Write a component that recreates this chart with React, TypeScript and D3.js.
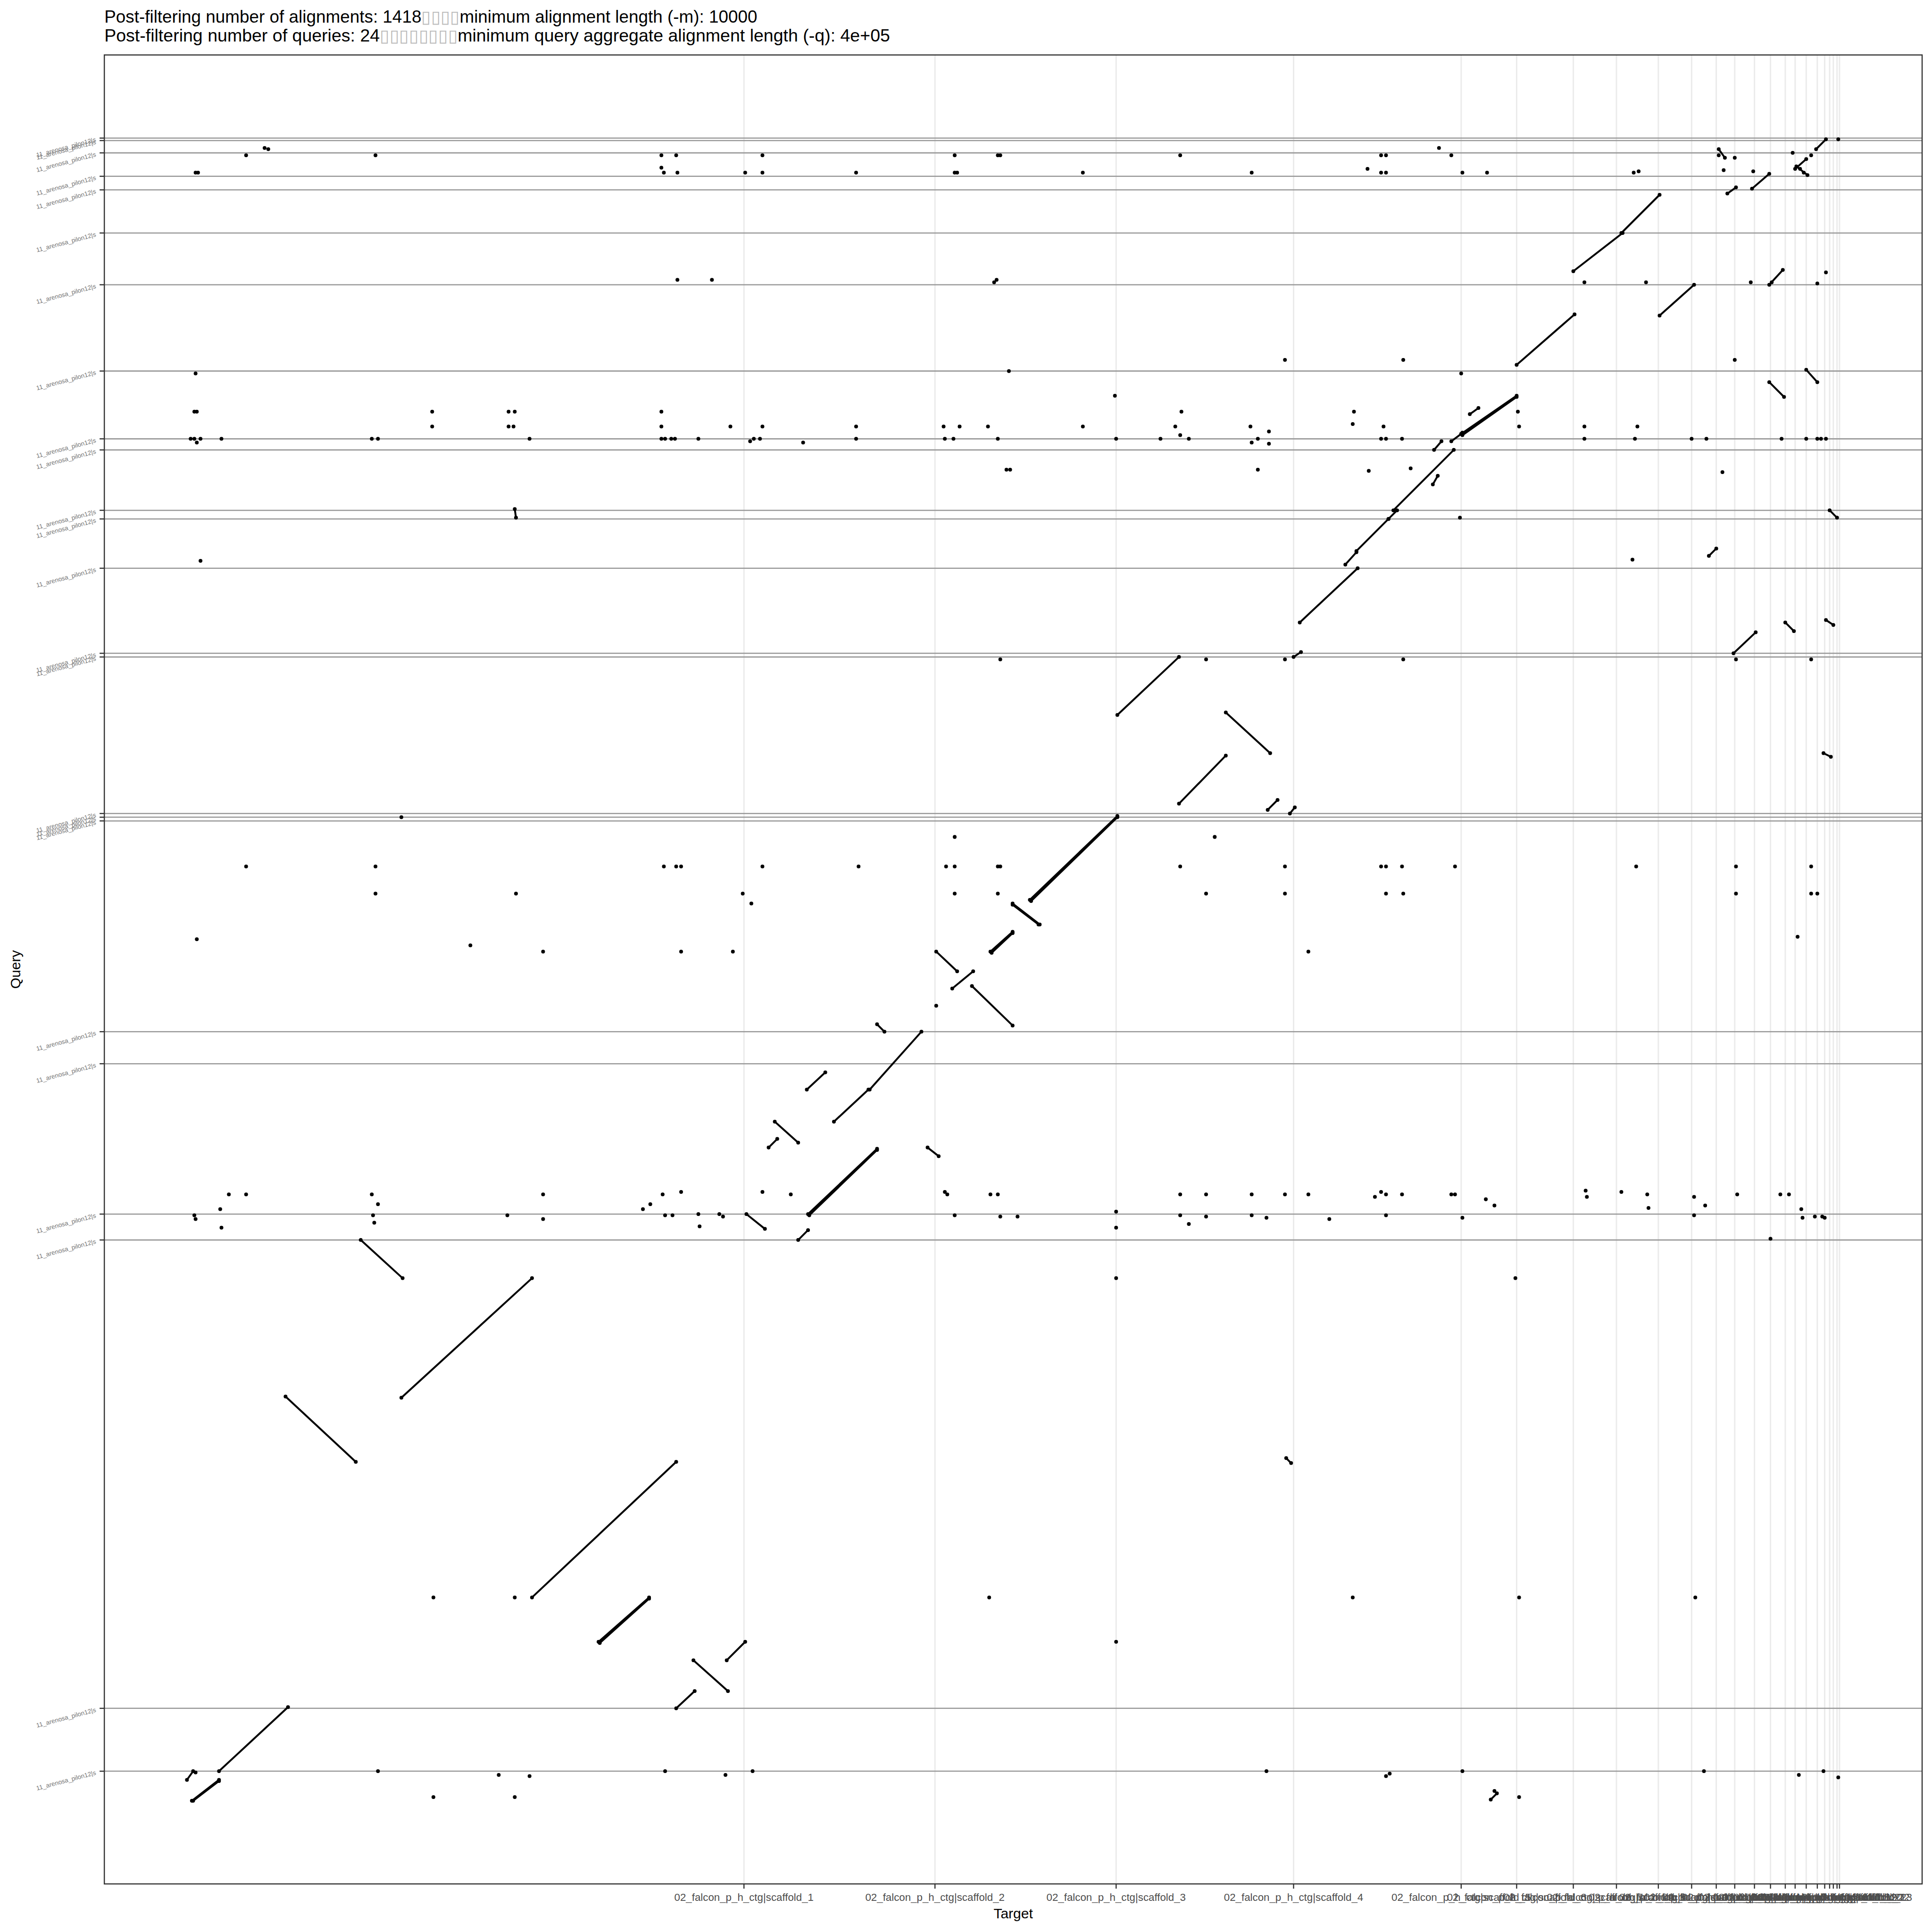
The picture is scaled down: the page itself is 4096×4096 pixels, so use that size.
import { useEffect, useRef } from 'react';
import * as d3 from 'd3';

// cumulative ends (Mb) of target scaffolds and query contigs
const targetEnds = [45.2, 60.7, 75.4, 89.8, 103.4, 107.9, 112.5, 116.0, 119.4, 122.1, 124.1, 125.6, 127.2, 128.5, 129.7, 130.5, 131.4, 132.3, 132.9, 133.3, 133.6, 133.9, 134.1];
const targetNames = targetEnds.map((_, i) => `02_falcon_p_h_ctg|scaffold_${i + 1}`);
const queryEnds = [2.4, 7.5, 45.5, 47.6, 59.8, 62.4, 79.5, 79.8, 80.1, 92.8, 93.1, 100.0, 104.0, 104.7, 109.6, 110.5, 116.0, 123.0, 127.2, 130.7, 131.8, 133.7, 134.7, 134.9];
const queryNames = queryEnds.map(() => '11_arenosa_pilon12|s');

// [targetStart, targetEnd, queryStart, queryEnd]
const alignments: [number, number, number, number][] = [
  [0.4, 2.6, 0.0, 1.7], [0.5, 2.6, 0.0, 1.6], [0.0, 0.5, 1.7, 2.4], [2.6, 8.2, 2.4, 7.6], [8.0, 13.7, 32.8, 27.5],
  [14.1, 17.5, 45.5, 42.4], [17.4, 28.0, 32.7, 42.4], [28.0, 39.7, 16.5, 27.5], [33.4, 37.5, 12.9, 16.5],
  [33.5, 37.5, 12.8, 16.4],
  [39.7, 41.2, 7.5, 8.9], [41.1, 43.9, 11.4, 8.9], [43.8, 45.3, 11.4, 12.9], [45.4, 46.9, 47.6, 46.4],
  [49.6, 50.4, 45.5, 46.3], [50.4, 56.0, 47.6, 52.9], [50.5, 56.0, 47.5, 52.8], [60.1, 61.0, 53.0, 52.3], [47.2, 47.9, 53.0, 53.7],
  [47.7, 49.6, 55.1, 53.4], [50.3, 51.8, 57.7, 59.1], [52.5, 55.3, 55.1, 57.7], [56.0, 56.6, 63.0, 62.4],
  [55.4, 59.6, 57.7, 62.4], [60.8, 62.5, 68.9, 67.3], [62.1, 63.8, 65.9, 67.3], [63.7, 67.0, 66.1, 62.9],
  [65.2, 67.0, 68.9, 70.5], [65.3, 67.0, 68.8, 70.4], [67.0, 69.2, 72.8, 71.1], [67.0, 69.1, 72.7, 71.1],
  [68.4, 75.5, 73.1, 79.9], [68.5, 75.5, 73.0, 79.8], [75.5, 80.5, 88.1, 92.8],
  [80.5, 84.3, 80.9, 84.8], [84.3, 87.9, 88.3, 85.0], [87.7, 88.5, 80.4, 81.2], [89.5, 89.9, 80.1, 80.6],
  [89.8, 90.4, 92.8, 93.2], [90.3, 95.0, 95.6, 100.0], [94.0, 94.9, 100.3, 101.3], [125.5, 127.3, 93.1, 94.8],
  [129.7, 130.4, 95.6, 94.9], [133.0, 133.6, 95.8, 95.4], [132.8, 133.4, 85.0, 84.7], [94.9, 97.5, 101.4, 104.0],
  [123.5, 124.1, 101.0, 101.6], [97.5, 98.2, 104.0, 104.7], [133.3, 133.9, 104.7, 104.1], [26.6, 26.7, 104.8, 104.1],
  [97.9, 102.8, 104.7, 109.6], [101.2, 101.8, 109.6, 110.3], [102.6, 103.4, 110.3, 110.9], [103.4, 107.9, 110.9, 114.0],
  [103.5, 107.9, 110.8, 113.9],
  [128.4, 129.6, 115.1, 113.9], [131.4, 132.3, 116.1, 115.1], [107.9, 112.6, 116.5, 120.6], [119.5, 122.3, 120.5, 123.0],
  [112.5, 116.5, 124.1, 127.2], [128.4, 129.5, 123.0, 124.2], [116.4, 119.5, 127.2, 130.3], [125.0, 125.7, 130.4, 130.9],
  [127.0, 128.4, 130.8, 132.0], [130.6, 131.5, 132.6, 131.9], [130.5, 131.4, 132.4, 133.2], [124.3, 124.8, 134.0, 133.3],
  [132.2, 133.0, 134.0, 134.8], [104.1, 104.8, 112.5, 113.0], [101.1, 101.5, 106.8, 107.5], [89.2, 89.6, 27.8, 27.4],
  [105.8, 106.3, 0.1, 0.6],
];

// short hits drawn as single points [target, query]
const hits: [number, number][] = [
  [15.5, 2.4], [25.3, 2.1], [27.8, 2.0], [38.8, 2.4], [43.7, 2.1], [45.9, 2.4], [87.6, 2.4], [97.3, 2.0], [97.6, 2.2],
  [103.5, 2.4], [123.1, 2.4], [130.8, 2.1], [132.8, 2.4], [134.0, 1.9], [0.7, 2.3],
  [20.0, 0.3], [26.6, 0.3], [108.1, 0.3], [106.1, 0.8],
  [75.4, 12.9], [20.0, 16.5], [26.6, 16.5], [65.1, 16.5], [94.6, 16.5], [108.1, 16.5], [122.4, 16.5],
  [75.4, 42.4], [107.8, 42.4],
  [0.6, 47.5], [0.7, 47.2], [2.7, 48.0], [2.8, 46.5], [3.4, 49.2], [4.8, 49.2], [15.0, 49.2], [15.5, 48.4], [15.1, 47.5],
  [15.2, 46.9], [26.0, 47.5], [28.9, 49.2], [28.9, 47.2], [37.0, 48.0], [37.6, 48.4], [38.6, 49.2], [38.8, 47.5],
  [39.4, 47.5], [40.1, 49.4], [41.5, 47.6], [41.6, 46.6], [43.2, 47.6], [43.5, 47.4], [46.7, 49.4], [49.0, 49.2],
  [61.5, 49.4], [61.7, 49.2], [62.3, 47.5], [65.2, 49.2], [65.8, 49.2], [66.0, 47.4], [67.4, 47.4], [75.4, 47.8],
  [75.4, 46.5], [80.6, 49.2], [80.6, 47.5], [81.3, 46.8], [82.7, 49.2], [82.7, 47.4], [86.4, 49.2], [86.4, 47.5],
  [87.6, 47.3], [89.1, 49.2], [91.0, 49.2], [92.7, 47.2], [96.4, 49.0], [96.9, 49.4], [97.3, 49.2], [97.3, 47.5],
  [98.6, 49.2], [102.6, 49.2], [102.9, 49.2], [103.5, 47.3], [105.4, 48.8], [106.1, 48.3], [113.5, 49.5], [113.6, 49.0],
  [116.4, 49.4], [118.5, 49.2], [118.6, 48.1], [122.3, 49.0], [122.3, 47.5], [123.2, 48.3], [125.8, 49.2], [128.5, 45.6],
  [129.3, 49.2], [130.0, 49.2], [131.0, 48.0], [131.1, 47.3], [132.1, 47.4], [132.7, 47.4], [132.9, 47.3],
  [60.8, 64.5],
  [0.8, 69.9], [23.0, 69.4], [28.9, 68.9], [40.1, 68.9], [44.3, 68.9], [91.0, 68.9], [130.7, 70.1],
  [15.3, 73.6], [26.7, 73.6], [45.1, 73.6], [45.8, 72.8], [62.3, 73.6], [65.8, 73.6], [82.7, 73.6], [89.1, 73.6],
  [97.3, 73.6], [98.7, 73.6], [125.7, 73.6], [131.8, 73.6], [132.3, 73.6],
  [4.8, 75.8], [15.3, 75.8], [38.7, 75.8], [39.7, 75.8], [40.1, 75.8], [46.7, 75.8], [54.5, 75.8], [61.6, 75.8],
  [62.3, 75.8], [65.8, 75.8], [66.0, 75.8], [80.6, 75.8], [89.1, 75.8], [96.9, 75.8], [97.3, 75.8], [98.6, 75.8],
  [102.9, 75.8], [117.6, 75.8], [125.7, 75.8], [131.8, 75.8],
  [62.3, 78.2], [83.4, 78.2], [17.4, 79.8],
  [66.0, 92.6], [82.7, 92.6], [89.1, 92.6], [98.7, 92.6], [125.7, 92.6], [131.8, 92.6],
  [1.1, 100.6], [103.3, 104.1], [117.3, 100.7],
  [66.5, 108.0], [66.8, 108.0], [86.9, 108.0], [95.9, 107.9], [99.3, 108.1], [124.6, 107.8],
  [0.3, 110.5], [0.6, 110.5], [0.8, 110.2], [1.1, 110.5], [2.8, 110.5], [15.0, 110.5], [15.5, 110.5], [27.8, 110.5],
  [38.5, 110.5], [38.8, 110.5], [39.3, 110.5], [39.6, 110.5], [41.5, 110.5], [45.7, 110.3], [46.0, 110.5], [46.5, 110.5],
  [54.3, 110.5], [61.5, 110.5], [62.2, 110.5], [65.8, 110.5], [75.4, 110.5], [81.3, 110.5], [86.9, 110.5], [87.8, 110.1],
  [96.9, 110.5], [97.3, 110.5], [98.6, 110.5], [113.4, 110.5], [117.5, 110.5], [122.1, 110.5], [123.3, 110.5],
  [129.4, 110.5], [131.4, 110.5], [132.3, 110.5], [132.6, 110.5], [133.0, 110.5], [50.0, 110.2], [79.0, 110.5],
  [80.6, 110.8], [86.4, 110.2], [103.5, 111.0],
  [19.9, 111.5], [26.1, 111.5], [26.5, 111.5], [38.5, 111.5], [44.1, 111.5], [46.7, 111.5], [54.3, 111.5], [61.4, 111.5],
  [62.7, 111.5], [65.0, 111.5], [72.7, 111.5], [80.2, 111.5], [86.3, 111.5], [87.8, 111.1], [97.1, 111.5], [108.1, 111.5],
  [113.4, 111.5], [117.7, 111.5], [94.6, 111.7],
  [0.6, 112.7], [0.8, 112.7], [19.9, 112.7], [26.1, 112.7], [26.6, 112.7], [38.5, 112.7], [80.7, 112.7], [94.7, 112.7],
  [108.0, 112.7],
  [75.3, 114.0], [0.7, 115.8], [66.7, 116.0], [103.4, 115.8],
  [89.1, 116.9], [98.7, 116.9], [125.6, 116.9],
  [39.8, 123.4], [42.6, 123.4], [65.5, 123.2], [65.7, 123.4], [113.4, 123.2], [118.4, 123.2], [126.9, 123.2],
  [128.6, 123.2], [132.3, 123.1], [133.0, 124.0],
  [0.7, 132.1], [0.9, 132.1], [38.5, 132.5], [38.7, 132.1], [39.8, 132.1], [45.3, 132.1], [46.7, 132.1], [54.3, 132.1],
  [62.3, 132.1], [62.5, 132.1], [72.7, 132.1], [86.4, 132.1], [95.8, 132.4], [96.9, 132.1], [97.3, 132.1],
  [103.5, 132.1], [105.5, 132.1], [117.4, 132.1], [117.8, 132.2], [130.9, 132.4], [131.2, 132.1],
  [4.8, 133.5], [6.3, 134.1], [6.6, 134.0], [15.3, 133.5], [38.5, 133.5], [39.7, 133.5], [46.7, 133.5], [62.3, 133.5],
  [65.8, 133.5], [66.0, 133.5], [80.6, 133.5], [96.9, 133.5], [97.3, 133.5], [101.6, 134.1], [102.6, 133.5],
  [124.3, 133.5], [127.1, 132.2], [130.3, 133.7], [131.8, 133.5], [134.0, 134.8], [125.6, 133.3], [124.7, 132.3],
];

const titleLine1 = ['Post-filtering number of alignments: 1418', '\u25AF\u25AF\u25AF\u25AF', 'minimum alignment length (-m): 10000'];
const titleLine2 = ['Post-filtering number of queries: 24', '\u25AF\u25AF\u25AF\u25AF\u25AF\u25AF\u25AF\u25AF', 'minimum query aggregate alignment length (-q): 4e+05'];

export default function App() {
  const svgRef = useRef<SVGSVGElement>(null);

  useEffect(() => {
    if (!svgRef.current) return;
    const svg = d3.select(svgRef.current);
    svg.selectAll('*').remove();

    const left = 243, right = 4477, top = 128, bottom = 4388;
    const tMax = targetEnds[targetEnds.length - 1];
    const qMax = queryEnds[queryEnds.length - 1];
    const x = d3.scaleLinear().domain([-0.05 * tMax, 1.05 * tMax]).range([left, right]);
    const y = d3.scaleLinear().domain([-0.05 * qMax, 1.05 * qMax]).range([bottom, top]);
    const font = 'Liberation Sans, Arial, Helvetica, sans-serif';

    svg.append('rect').attr('x', 0).attr('y', 0).attr('width', 4500).attr('height', 4500).attr('fill', '#fff');

    // title
    const titles = [titleLine1, titleLine2];
    titles.forEach((parts, i) => {
      const t = svg
        .append('text')
        .attr('x', left)
        .attr('y', 53 + i * 44)
        .attr('font-family', font)
        .attr('font-size', 40)
        .attr('fill', '#000')
        .attr('textLength', i === 0 ? 1521 : 1830)
        .attr('lengthAdjust', 'spacingAndGlyphs');
      parts.forEach((p, j) => {
        t.append('tspan').attr('fill', j === 1 ? '#bbb' : '#000').text(p);
      });
    });

    // vertical grid
    svg
      .append('g')
      .selectAll('line')
      .data(targetEnds)
      .enter()
      .append('line')
      .attr('x1', (d) => x(d))
      .attr('x2', (d) => x(d))
      .attr('y1', top)
      .attr('y2', bottom)
      .attr('stroke', '#EBEBEB')
      .attr('stroke-width', 3.3);

    // query boundaries
    svg
      .append('g')
      .selectAll('line')
      .data(queryEnds)
      .enter()
      .append('line')
      .attr('x1', left)
      .attr('x2', right)
      .attr('y1', (d) => y(d))
      .attr('y2', (d) => y(d))
      .attr('stroke', '#999999')
      .attr('stroke-width', 2.8);

    // alignments
    const g = svg.append('g');
    g.selectAll('line')
      .data(alignments)
      .enter()
      .append('line')
      .attr('x1', (d) => x(d[0]))
      .attr('x2', (d) => x(d[1]))
      .attr('y1', (d) => y(d[2]))
      .attr('y2', (d) => y(d[3]))
      .attr('stroke', '#000')
      .attr('stroke-width', 4.4)
      .attr('stroke-linecap', 'round');
    const ends: [number, number][] = [];
    alignments.forEach((a) => {
      ends.push([a[0], a[2]]);
      ends.push([a[1], a[3]]);
    });
    g.selectAll('circle.end')
      .data(ends.concat(hits))
      .enter()
      .append('circle')
      .attr('class', 'end')
      .attr('cx', (d) => x(d[0]))
      .attr('cy', (d) => y(d[1]))
      .attr('r', 4.4)
      .attr('fill', '#000');

    // panel border
    svg
      .append('rect')
      .attr('x', left)
      .attr('y', top)
      .attr('width', right - left)
      .attr('height', bottom - top)
      .attr('fill', 'none')
      .attr('stroke', '#333333')
      .attr('stroke-width', 2.7);

    // x axis
    const xa = svg.append('g').attr('transform', `translate(0,${bottom})`);
    targetEnds.forEach((d, i) => {
      xa.append('line').attr('x1', x(d)).attr('x2', x(d)).attr('y1', 0).attr('y2', 11).attr('stroke', '#333333').attr('stroke-width', 2.7);
      xa.append('text')
        .attr('x', x(d))
        .attr('y', 40)
        .attr('text-anchor', 'middle')
        .attr('font-family', font)
        .attr('font-size', 24.5)
        .attr('fill', '#4D4D4D')
        .text(targetNames[i]);
    });

    // y axis
    const ya = svg.append('g');
    queryEnds.forEach((d, i) => {
      ya.append('line').attr('x1', left - 11).attr('x2', left).attr('y1', y(d)).attr('y2', y(d)).attr('stroke', '#333333').attr('stroke-width', 2.7);
      ya.append('text')
        .attr('transform', `translate(${left - 20},${y(d) + 3}) rotate(-15)`)
        .attr('text-anchor', 'end')
        .attr('dominant-baseline', 'central')
        .attr('font-family', font)
        .attr('font-size', 14.7)
        .attr('fill', '#777')
        .text(queryNames[i]);
    });

    svg
      .append('text')
      .attr('x', (left + right) / 2)
      .attr('y', 4468)
      .attr('text-anchor', 'middle')
      .attr('font-family', font)
      .attr('font-size', 33)
      .attr('fill', '#000')
      .text('Target');

    svg
      .append('text')
      .attr('transform', `translate(47,${(top + bottom) / 2}) rotate(-90)`)
      .attr('text-anchor', 'middle')
      .attr('font-family', font)
      .attr('font-size', 33)
      .attr('fill', '#000')
      .text('Query');
  }, []);

  return (
    <svg
      ref={svgRef}
      width={4096}
      height={4096}
      viewBox="0 0 4500 4500"
      style={{ position: 'absolute', left: 0, top: 0, display: 'block' }}
    />
  );
}
